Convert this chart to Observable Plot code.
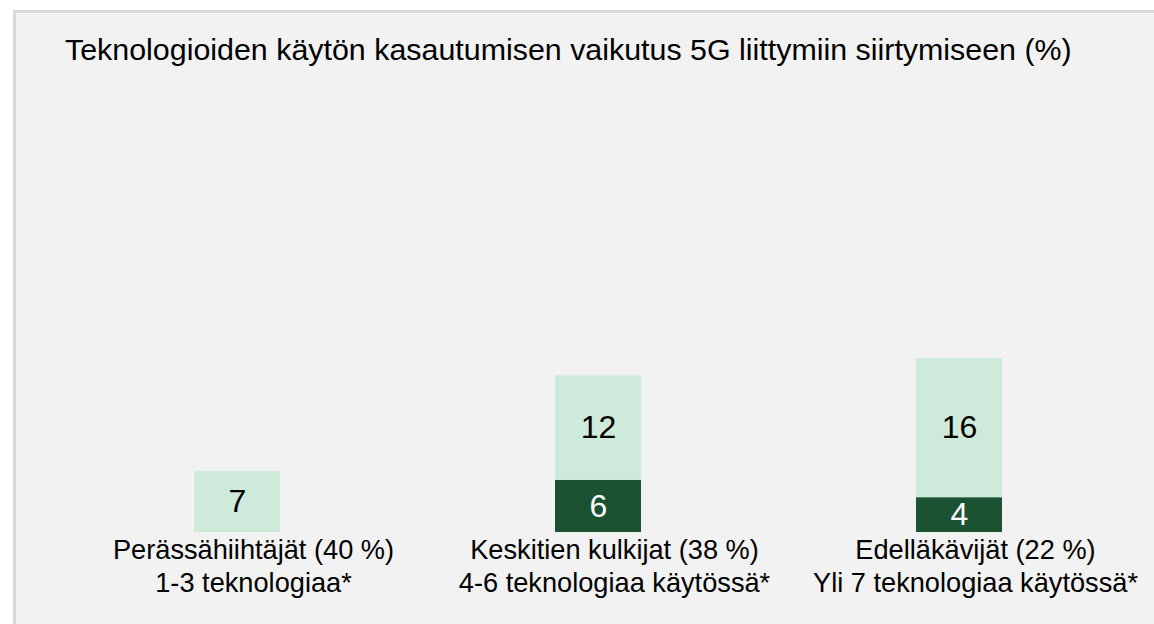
<!DOCTYPE html>
<html>
<head>
<meta charset="utf-8">
<script src="https://cdn.jsdelivr.net/npm/d3@7"></script>
<script src="https://cdn.jsdelivr.net/npm/@observablehq/plot@0.6"></script>
<style>
  html, body { margin: 0; padding: 0; background: #ffffff; width: 1154px; height: 624px; overflow: hidden; }
  #panel { position: absolute; left: 13px; top: 10px; width: 1138px; height: 611px; background: #f2f2f2;
           border-top: 3px solid #d9d9d9; border-left: 3px solid #d9d9d9; }
  #title { position: absolute; left: 65px; top: 34px; font-family: "Liberation Sans", Arial, sans-serif;
           font-size: 30.4px; line-height: 30px; color: #000; white-space: nowrap; }
  #chart { position: absolute; left: 0; top: 80px; }
</style>
</head>
<body>
<div id="panel"></div>
<div id="title">Teknologioiden käytön kasautumisen vaikutus 5G liittymiin siirtymiseen (%)</div>
<div id="chart"></div>
<script>
const categories = ["Perässähiihtäjät (40 %)", "Keskitien kulkijat (38 %)", "Edelläkävijät (22 %)"];
const subLabels = ["1-3 teknologiaa*", "4-6 teknologiaa käytössä*", "Yli 7 teknologiaa käytössä*"];
const series = ["Tumma", "Vaalea"];
const darkValues = [null, 6, 4];
const lightValues = [7, 12, 16];

const darkColor = "#1b5232";
const lightColor = "#cdeada";

const rows = [];
categories.forEach((c, i) => {
  if (darkValues[i] != null) rows.push({cat: c, series: series[0], value: darkValues[i]});
});
categories.forEach((c, i) => {
  if (lightValues[i] != null) rows.push({cat: c, series: series[1], value: lightValues[i]});
});
const labelRows = categories.map((c, i) => ({cat: c, text: c + "\n" + subLabels[i]}));

const chart = Plot.plot({
  width: 1154,
  height: 544,
  marginLeft: 41,
  marginRight: 0,
  marginTop: 17,
  marginBottom: 92,
  style: {background: "transparent", fontFamily: "'Liberation Sans', Arial, sans-serif"},
  x: {domain: categories, paddingInner: 0.762, paddingOuter: 0.42, axis: null},
  y: {domain: [0, 50], axis: null},
  color: {domain: series, range: [darkColor, lightColor]},
  marks: [
    Plot.barY(rows, {x: "cat", y: "value", fill: "series", z: "series", order: null}),
    Plot.ruleY(rows, Plot.stackY2({x: "cat", y: "value", z: "series", order: null,
      filter: d => d.series === series[0], stroke: "#ffffff", strokeWidth: 1.2})),
    Plot.text(rows, Plot.stackY({x: "cat", y: "value", z: "series", order: null,
      text: d => d.series === series[0] ? String(d.value) : null,
      fill: "#ffffff", fontSize: 32})),
    Plot.text(rows, Plot.stackY({x: "cat", y: "value", z: "series", order: null,
      text: d => d.series === series[1] ? String(d.value) : null,
      fill: "#000000", fontSize: 32})),
    Plot.text(labelRows, {x: "cat", y: () => 0, text: "text", lineAnchor: "top", lineHeight: 1.22,
      dy: 3, dx: 16, fontSize: 27.2, fill: "#000000"})
  ]
});
document.getElementById("chart").appendChild(chart);
</script>
</body>
</html>
